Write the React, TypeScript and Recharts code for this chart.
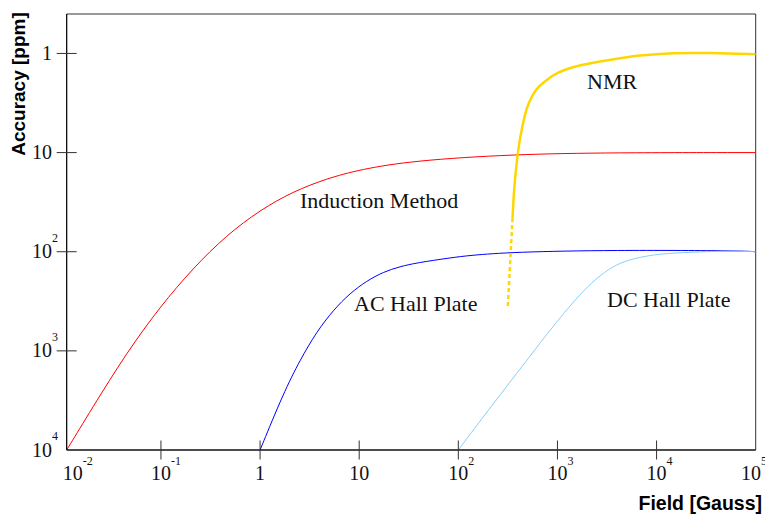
import { LineChart, Line, XAxis, YAxis, ReferenceArea } from 'recharts'

// axis ranges (Gauss / ppm), log scales
const fieldMin = 0.0112
const fieldMax = 1e5
const accTop = 0.4
const accBottom = 1e4

const xTicks = [fieldMin, 0.1, 1, 10, 100, 1e3, 1e4, 1e5]
const yTicks = [1, 10, 100, 1e3, 1e4]

// Induction Method
const inductionField = [0.0112, 0.02, 0.045, 0.098, 0.211, 0.461, 1, 2.15, 4.71, 10.2, 35, 357, 3650, 1e5]
const inductionPpm = [10000, 3850, 1047, 359, 146, 67.9, 38.0, 24.7, 18.3, 14.8, 12.05, 10.4, 10.0, 10.0]

// AC Hall Plate
const acHallField = [1, 1.72, 2.53, 3.73, 5.49, 8.09, 11.9, 17.5, 25.9, 38.1, 82.6, 131.5, 357, 3650, 69800, 1e5]
const acHallPpm = [10000, 2674, 1236, 640, 387, 262, 197, 160, 141, 129.4, 115.3, 108.7, 100.7, 96.2, 97.7, 100]

// DC Hall Plate
const dcHallField = [100, 179, 389, 844, 1245, 1829, 2700, 3975, 5848, 8610, 12700, 27500, 59700, 1e5]
const dcHallPpm = [10000, 4603, 1683, 615, 383, 246, 172, 133, 117.2, 108.7, 104, 100, 98.4, 100]

// NMR (dotted low-field part, then solid)
const nmrLowField = [316, 333, 351.5]
const nmrLowPpm = [353, 131, 47.9]
const nmrField = [351.5, 364, 386, 419, 472, 510, 573, 645, 782, 909, 1150, 1694, 3150, 6820, 14800, 32200, 1e5]
const nmrPpm = [47.9, 23.9, 12.85, 6.93, 4.03, 3.17, 2.53, 2.14, 1.86, 1.65, 1.47, 1.31, 1.17, 1.04, 0.986, 0.986, 1.02]

const zip = (xs: number[], ys: number[]) => xs.map((x, i) => ({ x, y: ys[i] }))

const serif = '"Liberation Serif", "Times New Roman", serif'
const sans = '"Liberation Sans", Arial, sans-serif'

const XTick = (props: any) => {
  const { x, y, payload } = props
  const v = payload.value as number
  const exp = Math.round(Math.log10(v))
  const edge = v <= fieldMin || v >= fieldMax
  let cx = x
  if (v <= fieldMin) cx = x + 6
  if (v >= fieldMax) cx = x - 4.7
  return (
    <g>
      {!edge && <line x1={x} x2={x} y1={y - 9.5} y2={y + 9.5} stroke="#333" />}
      {exp === 0 || exp === 1 ? (
        <text x={cx} y={y + 30} textAnchor="middle" fontFamily={serif} fontSize={20} fill="#111">
          {exp === 0 ? '1' : '10'}
        </text>
      ) : (
        <>
          <text x={cx} y={y + 30} textAnchor="middle" fontFamily={serif} fontSize={20} fill="#111">10</text>
          <text x={cx + 10} y={y + 15} textAnchor="start" fontFamily={serif} fontSize={12} fill="#111">{exp}</text>
        </>
      )}
    </g>
  )
}

const YTick = (props: any) => {
  const { x, y, payload } = props
  const v = payload.value as number
  const exp = Math.round(Math.log10(v))
  return (
    <g>
      {v < accBottom && <line x1={x - 10} x2={x + 10} y1={y} y2={y} stroke="#333" />}
      {exp <= 1 ? (
        <text x={x - 14.7} y={y + 6.5} textAnchor="end" fontFamily={serif} fontSize={20} fill="#111">
          {exp === 0 ? '1' : '10'}
        </text>
      ) : (
        <>
          <text x={x - 14.7} y={y + 6.5} textAnchor="end" fontFamily={serif} fontSize={20} fill="#111">10</text>
          <text x={x - 14.7} y={y - 10} textAnchor="start" fontFamily={serif} fontSize={12} fill="#111">{exp}</text>
        </>
      )}
    </g>
  )
}

export default function App() {
  return (
    <div style={{ position: 'absolute', left: 0, top: 0, width: 765, height: 514, background: '#fff' }}>
      <LineChart width={765} height={514} margin={{ top: 14, right: 9.3, bottom: 24, left: 6.7 }}>
        <XAxis
          dataKey="x"
          type="number"
          scale="log"
          domain={[fieldMin, fieldMax]}
          ticks={xTicks}
          interval={0}
          height={40}
          tickSize={0}
          tickMargin={0}
          tickLine={false}
          axisLine={{ stroke: '#000' }}
          tick={<XTick />}
          allowDataOverflow
        />
        <YAxis
          type="number"
          scale="log"
          domain={[accTop, accBottom]}
          ticks={yTicks}
          interval={0}
          reversed
          width={60}
          tickSize={0}
          tickMargin={0}
          tickLine={false}
          axisLine={{ stroke: '#000' }}
          tick={<YTick />}
          allowDataOverflow
        />
        <ReferenceArea x1={fieldMin} x2={fieldMax} y1={accTop} y2={accBottom} fill="none" stroke="#333" strokeWidth={1} />
        <Line data={zip(inductionField, inductionPpm)} dataKey="y" type="basis" stroke="#ff0000" strokeWidth={1} dot={false} isAnimationActive={false} />
        <Line data={zip(acHallField, acHallPpm)} dataKey="y" type="basis" stroke="#0000ff" strokeWidth={1} dot={false} isAnimationActive={false} />
        <Line data={zip(dcHallField, dcHallPpm)} dataKey="y" type="basis" stroke="#87cefa" strokeWidth={1} dot={false} isAnimationActive={false} />
        <Line data={zip(nmrLowField, nmrLowPpm)} dataKey="y" type="monotone" stroke="#ffd700" strokeWidth={2.5} strokeDasharray="4 3" dot={false} isAnimationActive={false} />
        <Line data={zip(nmrField, nmrPpm)} dataKey="y" type="basis" stroke="#ffd700" strokeWidth={2.5} dot={false} isAnimationActive={false} />
      </LineChart>
      <svg width={765} height={514} style={{ position: 'absolute', left: 0, top: 0, pointerEvents: 'none' }}>
        <text x={25} y={84} transform="rotate(-90 25 84)" textAnchor="middle" fontFamily={sans} fontWeight="bold" fontSize={19} fill="#000">
          Accuracy [ppm]
        </text>
        <text x={762} y={510} textAnchor="end" fontFamily={sans} fontWeight="bold" fontSize={19.5} fill="#000">
          Field [Gauss]
        </text>
        <text x={587} y={89} fontFamily={serif} fontSize={22} fill="#111">NMR</text>
        <text x={300} y={208} fontFamily={serif} fontSize={22} fill="#111">Induction Method</text>
        <text x={354} y={311} fontFamily={serif} fontSize={22} fill="#111">AC Hall Plate</text>
        <text x={607} y={307} fontFamily={serif} fontSize={22} fill="#111">DC Hall Plate</text>
      </svg>
    </div>
  )
}
